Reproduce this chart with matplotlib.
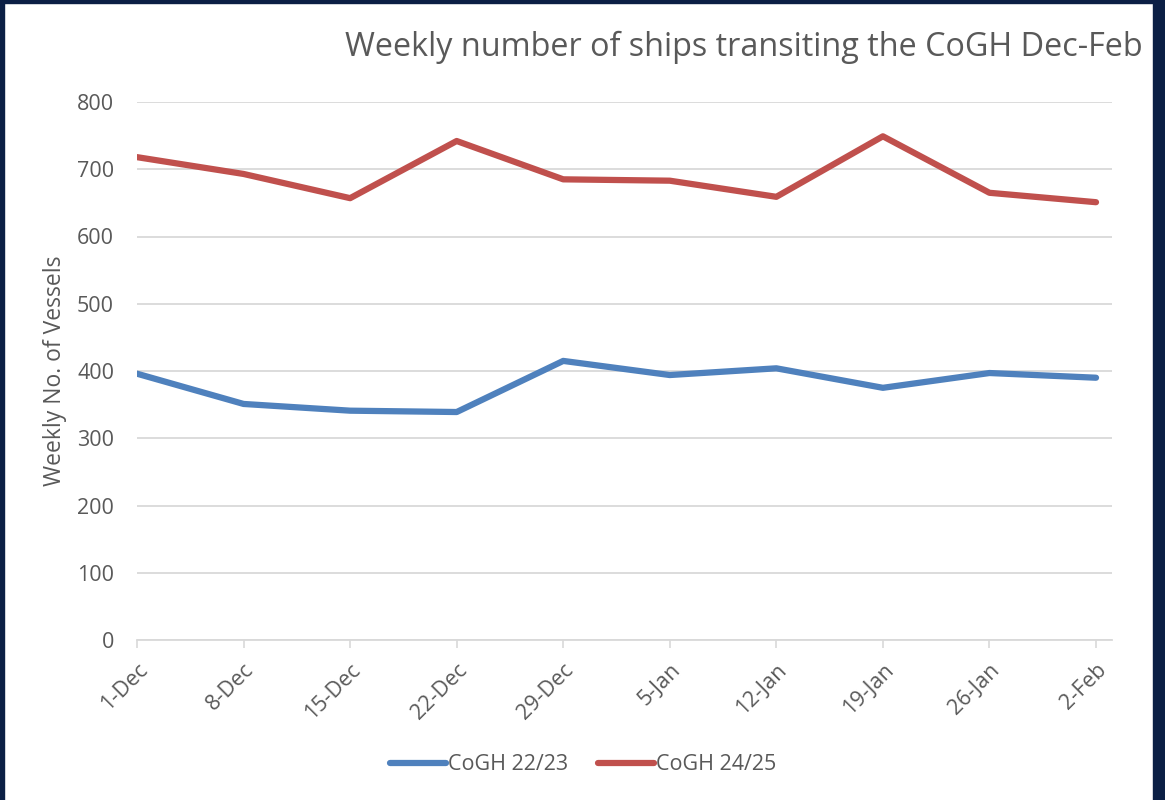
import matplotlib.pyplot as plt
import matplotlib.transforms as mtransforms
from matplotlib.patches import Rectangle

weeks = ["1-Dec", "8-Dec", "15-Dec", "22-Dec", "29-Dec",
         "5-Jan", "12-Jan", "19-Jan", "26-Jan", "2-Feb"]
cogh_2223 = [396, 351, 341, 339, 415, 394, 404, 375, 397, 390]
cogh_2425 = [718, 693, 657, 742, 685, 683, 659, 749, 665, 651]

plt.rcParams['font.family'] = ['Open Sans', 'DejaVu Sans']
grey = '#595959'
navy = '#0b1f45'

fig = plt.figure(figsize=(11.65, 8), dpi=100)
# dark frame round the picture
fig.patches.append(Rectangle((0, 0), 4 / 1165, 1, transform=fig.transFigure, color=navy))
fig.patches.append(Rectangle((1153 / 1165, 0), 12 / 1165, 1, transform=fig.transFigure, color=navy))
fig.patches.append(Rectangle((0, 1 - 3 / 800), 1, 3 / 800, transform=fig.transFigure, color=navy))

ax = fig.add_axes([137 / 1165, 160 / 800, (1112 - 137) / 1165, (640 - 102) / 800])
x = range(len(weeks))
ax.plot(x, cogh_2223, color='#4f81bd', lw=4.5, solid_capstyle='round', label='CoGH 22/23')
ax.plot(x, cogh_2425, color='#c0504d', lw=4.5, solid_capstyle='round', label='CoGH 24/25')

ax.set_ylim(0, 800)
ax.set_xlim(0, 9.15)
ax.set_yticks(range(0, 801, 100))
ax.set_xticks(list(x))
ax.set_xticklabels(weeks, rotation=45, ha='right', rotation_mode='anchor')
shift = mtransforms.ScaledTranslation(10 / 100, 0, fig.dpi_scale_trans)
for lab in ax.get_xticklabels():
    lab.set_transform(lab.get_transform() + shift)
ax.tick_params(axis='x', colors='#d9d9d9', labelcolor=grey, labelsize=15.5,
               direction='out', length=6, width=1.2, pad=8)
ax.tick_params(axis='y', length=0, labelcolor=grey, labelsize=15.5, pad=16.5)
ax.grid(axis='y', color='#d9d9d9', lw=1.3)
ax.set_axisbelow(True)
for s in ['top', 'right', 'left']:
    ax.spines[s].set_visible(False)
ax.spines['bottom'].set_color('#d9d9d9')
ax.spines['bottom'].set_linewidth(1.3)

ax.set_ylabel("Weekly No. of Vessels", color=grey, fontsize=16.5, labelpad=7)
fig.text(1143 / 1165, 1 - 47 / 800, "Weekly number of ships transiting the CoGH Dec-Feb",
         ha='right', va='center', fontsize=23.3, color=grey)

fig.legend(loc='center', bbox_to_anchor=(583 / 1165, 1 - 765 / 800), ncol=2, frameon=False,
           fontsize=15.5, labelcolor=grey, handlelength=2.6, handletextpad=0.1, columnspacing=1.4)

fig.savefig("out.png", dpi=100)
